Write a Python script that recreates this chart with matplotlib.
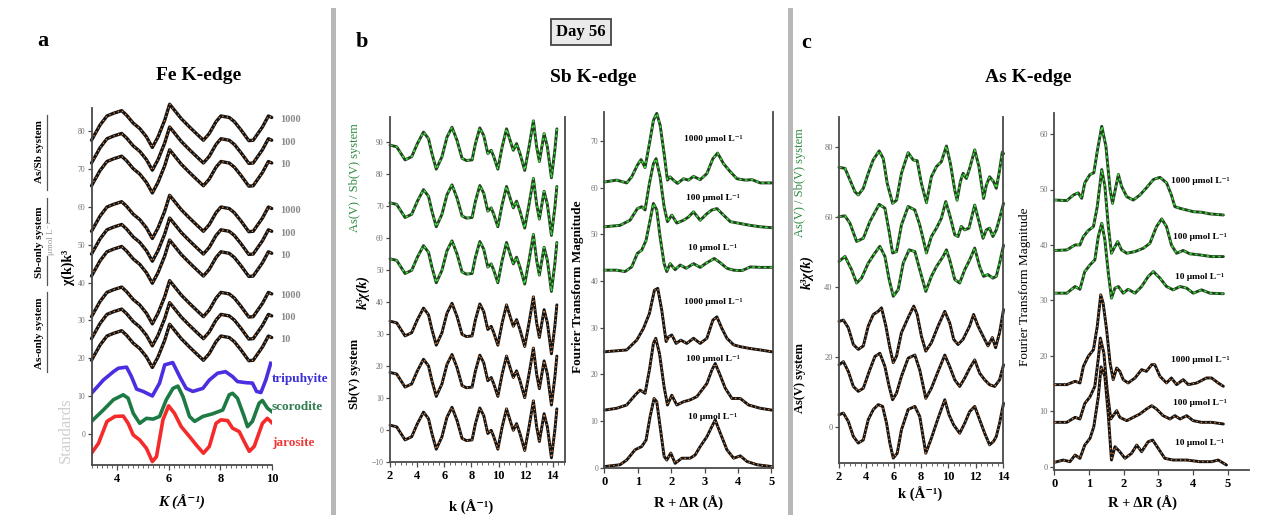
import matplotlib.pyplot as plt
from matplotlib.patches import Rectangle
from matplotlib.ticker import MultipleLocator

# ---------------- data ----------------

# panel a : Fe K-edge, chi(k)k^3 (top sample curve, the others are the same shape shifted)
fe_k = [3.0, 3.33, 3.6, 3.85, 4.17, 4.36, 4.62, 4.87, 5.13, 5.36, 5.58, 5.84, 6.03, 6.22,
        6.48, 6.8, 7.06, 7.34, 7.57, 7.83, 8.02, 8.34, 8.54, 8.8, 9.1, 9.27, 9.63, 9.86, 9.99]
fe_top = [77.5, 81.5, 83.9, 84.6, 85.3, 84.1, 82.0, 80.6, 78.4, 75.6, 78.4, 82.8, 87.0, 85.4,
          83.2, 81.0, 79.3, 77.5, 79.3, 82.4, 83.9, 83.5, 82.4, 80.2, 77.4, 77.5, 81.0, 83.9, 83.5]
fe_offsets = [0, -6, -12, -24, -30, -35.8, -46.5, -52.3, -58]
fe_conc = ["1000", "100", "10", "1000", "100", "10", "1000", "100", "10"]

trip_k = [3.0, 3.46, 3.85, 4.04, 4.36, 4.55, 4.75, 5.0, 5.36, 5.64, 5.84, 6.15, 6.42, 6.67,
          6.93, 7.32, 7.57, 7.89, 8.2, 8.47, 8.66, 8.99, 9.24, 9.4, 9.57, 9.76, 9.95]
trip_y = [10.8, 14.3, 16.5, 17.4, 17.7, 15.2, 11.9, 11.3, 10.1, 13.5, 18.3, 18.9, 15.2, 12.1,
          11.3, 12.1, 14.3, 16.1, 16.5, 15.2, 13.9, 13.6, 13.5, 11.3, 11.0, 14.3, 18.7]
scor_k = [3.0, 3.46, 3.85, 4.23, 4.42, 4.62, 4.87, 5.13, 5.39, 5.64, 5.9, 6.16, 6.35, 6.55, 6.8,
          7.0, 7.32, 7.7, 8.09, 8.34, 8.47, 8.66, 8.92, 9.05, 9.24, 9.5, 9.63, 9.82, 9.99]
scor_y = [3.4, 6.4, 9.1, 10.4, 9.5, 5.5, 2.9, 4.2, 4.0, 4.7, 9.1, 12.1, 12.7, 9.9, 4.7,
          3.4, 4.7, 5.4, 6.4, 10.4, 10.8, 9.5, 4.7, 2.0, 3.4, 8.2, 8.9, 6.9, 6.0]
jar_k = [3.0, 3.27, 3.6, 3.91, 4.23, 4.42, 4.62, 4.87, 5.13, 5.36, 5.52, 5.77, 5.99, 6.22, 6.48,
         6.8, 7.06, 7.34, 7.57, 7.83, 8.02, 8.28, 8.47, 8.73, 8.92, 9.12, 9.31, 9.63, 9.82, 9.99]
jar_y = [-5.0, -2.4, 3.4, 4.7, 4.8, 2.9, -0.2, -1.5, -3.7, -7.2, -5.9, 3.8, 7.5, 5.5, 2.0,
         -0.6, -2.8, -5.0, -3.2, 2.9, 3.8, 3.6, 1.6, 0.7, -1.9, -4.5, -3.2, 2.9, 4.2, 3.1]

# panel b : Sb K-edge k-space (top curve, the rest are shifted copies)
sb_k = [2.0, 2.49, 3.11, 3.6, 4.02, 4.47, 4.84, 5.09, 5.41, 5.83, 6.2, 6.57, 6.94, 7.31, 7.63,
        8.05, 8.3, 8.62, 8.91, 9.21, 9.46, 9.65, 9.95, 10.27, 10.59, 10.89, 11.09, 11.33, 11.58,
        11.93, 12.25, 12.57, 12.81, 13.01, 13.36, 13.6, 13.9, 14.15, 14.3]
sb_chi = [89.0, 88.5, 84.4, 85.4, 89.5, 93.1, 91.0, 86.4, 81.5, 85.4, 91.5, 94.6, 90.5, 84.9, 84.2,
          84.4, 89.5, 94.4, 92.0, 86.4, 87.4, 85.4, 81.5, 88.5, 94.1, 90.0, 87.4, 89.5, 86.4,
          81.1, 88.5, 96.6, 88.5, 83.9, 92.6, 88.5, 78.8, 87.4, 94.1]
sb_offsets = [0, -18, -35.5, -55, -71, -87.5]

# panel b : Sb K-edge Fourier transforms (R, magnitude)
sb_ft_mix_1000 = [(0.0, 61.2), (0.37, 61.6), (0.67, 61.0), (0.82, 62.3), (0.99, 64.8), (1.1, 66.0),
                  (1.22, 64.3), (1.35, 69.4), (1.47, 74.4), (1.57, 75.9), (1.67, 73.4), (1.79, 67.3),
                  (1.89, 61.6), (1.97, 62.3), (2.07, 61.6), (2.19, 60.9), (2.37, 61.9), (2.52, 61.6),
                  (2.67, 62.4), (2.87, 61.7), (3.07, 63.0), (3.25, 66.2), (3.39, 67.4), (3.57, 65.1),
                  (3.77, 63.4), (3.97, 61.9), (4.22, 61.6), (4.42, 61.7), (4.67, 61.0), (5.02, 61.0)]
sb_ft_mix_100 = [(0.0, 51.6), (0.47, 51.9), (0.77, 53.0), (0.99, 55.5), (1.12, 55.9), (1.22, 55.2),
                 (1.35, 60.9), (1.47, 65.1), (1.55, 66.2), (1.67, 62.3), (1.79, 55.9), (1.89, 52.7),
                 (2.02, 54.1), (2.17, 52.4), (2.37, 53.0), (2.52, 53.7), (2.67, 54.8), (2.87, 53.0),
                 (3.07, 54.4), (3.22, 55.2), (3.37, 55.5), (3.57, 54.1), (3.77, 52.7), (4.07, 52.3),
                 (4.37, 51.9), (4.67, 51.6), (5.02, 51.4)]
sb_ft_mix_10 = [(0.0, 42.3), (0.37, 42.3), (0.62, 42.0), (0.82, 43.0), (0.99, 45.9), (1.12, 46.6),
                (1.25, 48.7), (1.37, 53.0), (1.47, 56.6), (1.57, 55.2), (1.67, 49.4), (1.79, 43.7),
                (1.87, 42.0), (1.97, 43.7), (2.12, 42.4), (2.27, 43.4), (2.45, 42.7), (2.67, 43.7),
                (2.87, 42.9), (3.07, 43.9), (3.29, 44.8), (3.47, 43.9), (3.67, 42.7), (3.87, 42.3),
                (4.12, 42.2), (4.37, 43.0), (4.67, 42.9), (5.02, 42.9)]
sb_ft_sb_1000 = [(0.0, 24.8), (0.67, 25.2), (0.97, 27.3), (1.17, 29.8), (1.35, 33.0), (1.5, 38.0),
                 (1.6, 38.4), (1.72, 33.7), (1.85, 27.0), (1.92, 28.0), (2.02, 28.4), (2.15, 26.6),
                 (2.29, 27.3), (2.47, 26.6), (2.67, 27.7), (2.87, 26.6), (3.07, 27.7), (3.25, 31.6),
                 (3.37, 32.3), (3.52, 29.8), (3.67, 27.7), (3.87, 26.3), (4.07, 25.9), (4.37, 25.5),
                 (4.67, 25.2), (5.02, 24.8)]
sb_ft_sb_100 = [(0.0, 12.3), (0.37, 12.7), (0.67, 13.4), (0.92, 15.5), (1.07, 16.6), (1.22, 15.9),
                (1.35, 20.9), (1.47, 26.6), (1.54, 27.7), (1.65, 24.5), (1.79, 17.3), (1.89, 13.4),
                (2.02, 15.5), (2.17, 13.4), (2.37, 14.1), (2.57, 14.5), (2.77, 15.2), (2.92, 16.6),
                (3.07, 18.0), (3.22, 20.9), (3.32, 22.3), (3.45, 20.1), (3.62, 17.0), (3.82, 14.8),
                (4.07, 14.8), (4.32, 13.4), (4.67, 12.7), (5.02, 12.3)]
sb_ft_sb_10 = [(0.0, 0.2), (0.47, 0.6), (0.67, 1.6), (0.92, 3.8), (1.12, 4.5), (1.25, 5.9),
               (1.37, 10.9), (1.49, 14.8), (1.57, 14.1), (1.67, 8.8), (1.79, 2.4), (1.87, 1.6),
               (1.99, 3.1), (2.12, 0.9), (2.32, 2.0), (2.57, 2.0), (2.72, 2.7), (2.87, 4.5),
               (3.07, 6.6), (3.22, 8.8), (3.32, 10.2), (3.47, 7.4), (3.67, 3.8), (3.87, 2.0),
               (4.07, 2.5), (4.27, 1.3), (4.57, 0.6), (5.02, 0.2)]

# panel c : As K-edge k-space (k, k3 chi)
as_k_mix_1000 = [(2.0, 74.3), (2.44, 74.0), (2.8, 70.7), (3.17, 67.3), (3.41, 66.4), (3.78, 68.3),
                 (4.14, 72.6), (4.5, 76.4), (4.94, 79.0), (5.24, 76.8), (5.53, 69.7), (5.92, 64.0),
                 (6.21, 64.9), (6.57, 72.6), (7.06, 78.5), (7.43, 76.4), (7.72, 76.2), (8.03, 69.7),
                 (8.4, 64.2), (8.76, 71.6), (9.13, 74.5), (9.49, 75.9), (9.86, 80.4), (10.15, 75.4),
                 (10.47, 67.8), (10.64, 64.9), (10.88, 70.2), (11.08, 72.6), (11.32, 71.1),
                 (11.56, 74.0), (11.93, 79.3), (12.24, 74.5), (12.58, 65.4), (12.78, 69.2),
                 (13.02, 71.6), (13.31, 70.2), (13.51, 68.3), (13.75, 73.5), (13.95, 78.7), (14.04, 78.2)]
as_k_mix_100 = [(2.0, 60.2), (2.44, 60.4), (2.8, 58.3), (3.29, 53.1), (3.78, 54.0), (4.26, 58.8),
                (4.94, 63.7), (5.36, 62.6), (5.67, 55.9), (5.92, 49.8), (6.21, 50.2), (6.57, 57.8),
                (7.06, 63.1), (7.55, 62.1), (7.91, 57.8), (8.4, 49.8), (8.76, 54.5), (9.13, 56.9),
                (9.49, 59.7), (9.81, 64.5), (10.1, 60.7), (10.47, 55.0), (10.71, 54.5), (10.95, 57.4),
                (11.2, 56.4), (11.51, 56.9), (11.93, 63.5), (12.24, 58.8), (12.54, 54.0), (12.78, 56.4),
                (13.02, 56.9), (13.26, 54.5), (13.51, 56.4), (13.75, 59.7), (14.04, 64.0)]
as_k_mix_10 = [(2.0, 47.4), (2.44, 48.8), (2.92, 45.0), (3.29, 41.2), (3.65, 42.6), (4.14, 46.9),
               (4.63, 49.8), (4.99, 51.7), (5.36, 48.8), (5.67, 42.2), (5.97, 37.4), (6.33, 39.3),
               (6.7, 46.9), (7.13, 50.7), (7.55, 50.2), (7.91, 45.0), (8.35, 38.8), (8.76, 43.1),
               (9.13, 45.9), (9.62, 48.8), (9.86, 50.7), (10.1, 47.8), (10.47, 42.2), (10.83, 41.2),
               (11.2, 45.0), (11.56, 47.8), (11.93, 51.2), (12.29, 45.9), (12.58, 43.1), (12.9, 43.6),
               (13.26, 42.6), (13.51, 43.1), (13.75, 46.9), (14.04, 52.0)]
as_k_as_1000 = [(2.0, 30.2), (2.32, 30.6), (2.68, 28.4), (3.05, 23.6), (3.41, 22.2), (3.78, 23.2),
                (4.14, 28.9), (4.51, 32.2), (4.87, 33.1), (5.11, 34.1), (5.43, 28.9), (5.72, 22.7),
                (5.97, 18.4), (6.21, 20.3), (6.57, 27.0), (7.06, 31.3), (7.47, 34.6), (7.72, 32.2),
                (8.03, 26.0), (8.35, 21.7), (8.76, 24.1), (9.25, 28.9), (9.74, 33.1), (10.1, 29.8),
                (10.39, 25.1), (10.71, 23.6), (11.08, 25.1), (11.56, 28.9), (11.85, 32.2),
                (12.17, 28.9), (12.54, 26.0), (12.9, 23.2), (13.22, 25.6), (13.46, 22.7),
                (13.75, 27.0), (14.04, 33.6)]
as_k_as_100 = [(2.0, 17.8), (2.32, 18.7), (2.68, 15.9), (3.05, 11.6), (3.41, 10.2), (3.78, 11.1),
               (4.21, 15.9), (4.63, 20.2), (4.99, 21.1), (5.36, 17.3), (5.67, 11.6), (5.92, 7.8),
               (6.21, 9.7), (6.57, 14.5), (7.06, 19.7), (7.55, 20.6), (7.91, 16.3), (8.35, 8.2),
               (8.76, 11.1), (9.25, 15.9), (9.74, 20.6), (10.1, 17.3), (10.47, 13.5), (10.83, 11.6),
               (11.2, 14.0), (11.56, 16.8), (11.93, 19.2), (12.29, 15.4), (12.66, 13.5), (13.02, 12.1),
               (13.39, 11.6), (13.75, 13.5), (14.04, 17.8)]
as_k_as_10 = [(2.0, 3.5), (2.32, 4.0), (2.68, 1.6), (3.05, -2.7), (3.41, -4.6), (3.78, -3.7),
              (4.14, 2.1), (4.51, 5.0), (4.87, 6.4), (5.19, 5.9), (5.48, 1.1), (5.72, -4.6),
              (5.97, -8.9), (6.26, -7.5), (6.57, -0.8), (7.06, 5.0), (7.55, 5.9), (7.91, 3.0),
              (8.35, -7.5), (8.76, -3.2), (9.25, 2.5), (9.74, 7.8), (10.05, 3.5), (10.39, 0.6),
              (10.83, -1.8), (11.2, 1.1), (11.56, 4.4), (11.93, 5.9), (12.29, 2.1), (12.66, -1.8),
              (13.02, -5.1), (13.31, -4.1), (13.51, -2.7), (13.75, 1.1), (14.04, 6.8)]

# panel c : As K-edge Fourier transforms (R, magnitude)
as_ft_mix_1000 = [(0.02, 48.1), (0.36, 48.0), (0.55, 49.0), (0.69, 49.4), (0.79, 48.4), (0.88, 51.2),
                  (1.03, 52.7), (1.14, 53.0), (1.24, 56.9), (1.37, 61.4), (1.49, 57.8), (1.61, 50.0),
                  (1.68, 47.5), (1.78, 50.6), (1.85, 52.7), (1.94, 50.6), (2.09, 48.7), (2.28, 48.1),
                  (2.47, 49.0), (2.66, 50.3), (2.86, 51.8), (3.05, 52.2), (3.24, 51.2), (3.38, 49.0),
                  (3.48, 46.9), (3.63, 46.6), (3.82, 46.3), (4.01, 46.0), (4.25, 45.9), (4.49, 45.6),
                  (4.88, 45.4)]
as_ft_mix_100 = [(0.02, 39.0), (0.36, 39.1), (0.6, 40.0), (0.74, 40.0), (0.84, 41.5), (0.98, 42.6),
                 (1.13, 43.3), (1.24, 46.9), (1.37, 53.6), (1.46, 50.6), (1.56, 43.3), (1.65, 38.5),
                 (1.75, 39.7), (1.83, 40.6), (1.94, 39.1), (2.09, 38.5), (2.33, 38.8), (2.57, 39.4),
                 (2.76, 40.3), (2.95, 43.3), (3.1, 44.7), (3.24, 43.3), (3.38, 40.0), (3.53, 38.5),
                 (3.72, 39.0), (3.91, 38.4), (4.2, 38.2), (4.54, 37.9), (4.88, 37.9)]
as_ft_mix_10 = [(0.02, 31.3), (0.36, 31.3), (0.6, 32.5), (0.74, 32.0), (0.88, 35.2), (1.03, 36.4),
                (1.17, 37.3), (1.27, 41.5), (1.37, 43.9), (1.46, 40.9), (1.56, 34.9), (1.65, 30.4),
                (1.75, 32.2), (1.85, 32.5), (1.99, 31.3), (2.13, 32.0), (2.33, 31.3), (2.52, 32.5),
                (2.71, 34.3), (2.86, 35.2), (3.05, 34.0), (3.24, 32.5), (3.43, 31.9), (3.63, 32.5),
                (3.82, 32.2), (4.01, 31.3), (4.25, 31.9), (4.49, 31.3), (4.88, 31.2)]
as_ft_as_1000 = [(0.02, 14.8), (0.36, 14.8), (0.6, 15.4), (0.74, 15.1), (0.84, 18.1), (0.98, 19.9),
                 (1.13, 21.1), (1.24, 25.3), (1.34, 31.0), (1.41, 29.5), (1.51, 24.7), (1.61, 18.7),
                 (1.7, 15.7), (1.8, 17.8), (1.89, 17.2), (1.99, 15.7), (2.13, 15.1), (2.33, 16.0),
                 (2.52, 17.5), (2.66, 17.2), (2.81, 18.4), (2.9, 18.4), (3.05, 16.3), (3.24, 15.1),
                 (3.38, 16.0), (3.53, 14.8), (3.72, 15.7), (3.87, 14.8), (4.11, 15.1), (4.39, 16.0),
                 (4.54, 16.0), (4.73, 15.1), (4.88, 14.5)]
as_ft_as_100 = [(0.02, 8.0), (0.36, 8.0), (0.6, 8.9), (0.74, 8.6), (0.88, 11.4), (1.03, 12.6),
                (1.17, 14.5), (1.27, 19.5), (1.33, 23.2), (1.43, 20.5), (1.53, 13.6), (1.63, 8.6),
                (1.7, 9.2), (1.8, 10.1), (1.89, 8.9), (2.09, 8.3), (2.28, 8.9), (2.47, 9.5),
                (2.66, 10.4), (2.81, 11.0), (2.95, 10.4), (3.14, 9.2), (3.34, 8.6), (3.48, 9.2),
                (3.63, 8.6), (3.82, 9.2), (4.01, 8.3), (4.25, 8.0), (4.54, 8.0), (4.88, 7.7)]
as_ft_as_10 = [(0.02, 0.8), (0.26, 1.2), (0.45, 0.9), (0.6, 2.1), (0.74, 1.5), (0.88, 3.9),
               (1.03, 5.1), (1.14, 7.2), (1.27, 12.6), (1.35, 18.0), (1.46, 16.3), (1.56, 9.2),
               (1.65, 1.2), (1.75, 3.6), (1.89, 2.7), (2.04, 1.5), (2.23, 2.4), (2.38, 3.9),
               (2.52, 2.7), (2.71, 4.5), (2.84, 4.8), (3.0, 3.3), (3.19, 1.5), (3.43, 1.2),
               (3.82, 1.2), (4.2, 0.9), (4.54, 0.9), (4.73, 1.2), (4.97, 0.3)]

ft_conc = ["1000", "100", "10", "1000", "100", "10"]

# ---------------- figure ----------------

W, H = 1268, 515
plt.rcParams['font.family'] = ['Liberation Serif', 'DejaVu Serif']

fig = plt.figure(figsize=(W / 100, H / 100), dpi=100)

BLACK = "#141414"
DKGREEN = "#22451f"
ORANGE = "#f58a3a"
GREEN = "#3fe03f"
LBL_GREEN = "#2f8a40"


def px_box(left, top, right, bottom):
    return [left / W, 1 - bottom / H, (right - left) / W, (bottom - top) / H]


def ftext(x, y, s, **kw):
    fig.text(x / W, 1 - y / H, s, **kw)


def style_axes(ax, right=False, ylabsize=5.5):
    ax.patch.set_alpha(0)
    ax.spines["top"].set_visible(False)
    ax.spines["right"].set_visible(right)
    for s in ["left", "bottom", "right"]:
        ax.spines[s].set_color("#4a4a4a")
        ax.spines[s].set_linewidth(1.3)
    ax.tick_params(axis="y", labelsize=ylabsize, labelcolor="#707070", color="#4a4a4a",
                   length=3, width=0.9, pad=1.5)
    ax.tick_params(axis="x", labelsize=9, color="#4a4a4a", length=3.5, width=0.9, pad=2)
    ax.tick_params(axis="x", which="minor", length=2, width=0.6, color="#4a4a4a")
    for lab in ax.get_xticklabels():
        lab.set_fontweight("bold")


def fit_pair(ax, x, y, line_color, dot_color, lw=2.3, green=False):
    ax.plot(x, y, color=line_color, lw=lw, solid_joinstyle="round", solid_capstyle="round",
            clip_on=False)
    if green:
        ax.plot(x, y, color=dot_color, lw=1.1, linestyle=(0, (1.6, 2.2)), clip_on=False)
    else:
        ax.plot(x, y, color=dot_color, lw=0.9, linestyle=(0, (1.0, 2.6)), clip_on=False)


# separators
for xs in [331, 788]:
    fig.add_artist(Rectangle((xs / W, 0), 5 / W, 1 - 8 / H, transform=fig.transFigure,
                             facecolor="#b8b8b8", edgecolor="none"))

# ---- panel a ----
ax_a = fig.add_axes(px_box(91.5, 108, 272, 465))
for off in fe_offsets:
    fit_pair(ax_a, fe_k, [v + off for v in fe_top], BLACK, ORANGE, lw=2.4)
ax_a.plot(trip_k, trip_y, color="#4a2fe0", lw=2.6)
ax_a.plot(scor_k, scor_y, color="#1e7a45", lw=2.6)
ax_a.plot(jar_k, jar_y, color="#f52a2a", lw=2.6)
ax_a.set_xlim(3, 10)
ax_a.set_ylim(-8.1, 86)
ax_a.set_xticks([4, 6, 8, 10])
ax_a.xaxis.set_minor_locator(MultipleLocator(0.2))
ax_a.set_yticks(range(0, 81, 10))
style_axes(ax_a)

for off, c in zip(fe_offsets, fe_conc):
    ax_a.text(10.3, fe_top[-1] + off - 0.5, c, fontsize=7.5, color="#8a8a8a",
              fontweight="bold", va="center", clip_on=False)
ax_a.text(10.0, 14.5, "tripuhyite", fontsize=9.5, color="#3a30d8", fontweight="bold",
          va="center", clip_on=False)
ax_a.text(10.0, 7.1, "scorodite", fontsize=9.5, color="#2f7f4f", fontweight="bold",
          va="center", clip_on=False)
ax_a.text(10.0, -2.4, "jarosite", fontsize=9.5, color="#ee3a3a", fontweight="bold",
          va="center", clip_on=False)

ftext(43, 41, "a", fontsize=16, fontweight="bold", ha="center", va="center")
ftext(199, 76, "Fe K-edge", fontsize=14, fontweight="bold", ha="center", va="center")
ftext(182, 502, "K (Å⁻¹)", fontsize=11, fontweight="bold", style="italic", ha="center", va="center")
ftext(68, 267, "χ(k)k³", fontsize=10, fontweight="bold", rotation=90, ha="center", va="center")
ftext(39, 152, "As/Sb system", fontsize=8, fontweight="bold", rotation=90, ha="center", va="center")
ftext(39, 242, "Sb-only system", fontsize=8, fontweight="bold", rotation=90, ha="center", va="center")
ftext(39, 333, "As-only system", fontsize=8, fontweight="bold", rotation=90, ha="center", va="center")
ftext(51, 238, "μmol L⁻¹", fontsize=6.5, color="#9a9a9a", rotation=90, ha="center", va="center")
ftext(66, 430, "Standards", fontsize=12, color="#cfcfcf", rotation=90, ha="center", va="center")
for y0, y1 in [(115, 190), (198, 222), (256, 285), (292, 372)]:
    fig.add_artist(plt.Line2D([47 / W, 47 / W], [1 - y0 / H, 1 - y1 / H], color="#555555", lw=0.9))

# ---- panel b ----
ftext(362, 42, "b", fontsize=16, fontweight="bold", ha="center", va="center")
ftext(581, 32, "Day 56", fontsize=12, fontweight="bold", ha="center", va="center",
      bbox=dict(boxstyle="square,pad=0.3", fc="#eaeaea", ec="#444444", lw=1.3))
ftext(593, 77, "Sb K-edge", fontsize=14, fontweight="bold", ha="center", va="center")

ax_bk = fig.add_axes(px_box(390, 117, 565, 462))
for i, off in enumerate(sb_offsets):
    if i < 3:
        fit_pair(ax_bk, sb_k, [v + off for v in sb_chi], DKGREEN, GREEN, lw=2.1, green=True)
    else:
        fit_pair(ax_bk, sb_k, [v + off for v in sb_chi], BLACK, ORANGE, lw=2.1)
ax_bk.set_xlim(2, 14.9)
ax_bk.set_ylim(-10, 97.8)
ax_bk.set_xticks(range(2, 15, 2))
ax_bk.xaxis.set_minor_locator(MultipleLocator(0.4))
ax_bk.set_yticks(range(-10, 91, 10))
style_axes(ax_bk, right=True)
ftext(471, 507, "k (Å⁻¹)", fontsize=10.5, fontweight="bold", ha="center", va="center")
ftext(363, 292, "k³χ(k)", fontsize=10, fontweight="bold", style="italic", rotation=90,
      ha="center", va="center")
ftext(355, 178, "As(V) / Sb(V) system", fontsize=9, color=LBL_GREEN, rotation=90,
      ha="center", va="center")
ftext(355, 374, "Sb(V) system", fontsize=9, fontweight="bold", rotation=90, ha="center", va="center")

ax_bf = fig.add_axes(px_box(604.3, 112, 772.7, 468))
sb_ft = [sb_ft_mix_1000, sb_ft_mix_100, sb_ft_mix_10, sb_ft_sb_1000, sb_ft_sb_100, sb_ft_sb_10]
sb_lab_y = [70.5, 57.8, 47.0, 35.5, 23.3, 10.8]
for i, (curve, c, ly) in enumerate(zip(sb_ft, ft_conc, sb_lab_y)):
    r, m = zip(*curve)
    if i < 3:
        fit_pair(ax_bf, r, m, DKGREEN, GREEN, lw=2.1, green=True)
    else:
        fit_pair(ax_bf, r, m, BLACK, ORANGE, lw=2.1)
    ax_bf.text(3.25, ly, c + " μmol L⁻¹", fontsize=6.8, fontweight="bold", ha="center", va="center")
ax_bf.set_xlim(0, 5.04)
ax_bf.set_ylim(-0.1, 76.2)
ax_bf.set_xticks(range(0, 6))
ax_bf.set_yticks(range(0, 71, 10))
style_axes(ax_bf, right=True)
ftext(688, 503, "R + ΔR (Å)", fontsize=10.5, fontweight="bold", ha="center", va="center")
ftext(578, 287, "Fourier Transform Magnitude", fontsize=9.5, fontweight="bold", rotation=90,
      ha="center", va="center")

# ---- panel c ----
ftext(806, 43, "c", fontsize=16, fontweight="bold", ha="center", va="center")
ftext(1028, 77, "As K-edge", fontsize=14, fontweight="bold", ha="center", va="center")

ax_ck = fig.add_axes(px_box(839, 117, 1003, 463))
as_k = [as_k_mix_1000, as_k_mix_100, as_k_mix_10, as_k_as_1000, as_k_as_100, as_k_as_10]
for i, curve in enumerate(as_k):
    k, chi = zip(*curve)
    if i < 3:
        fit_pair(ax_ck, k, chi, DKGREEN, GREEN, lw=2.1, green=True)
    else:
        fit_pair(ax_ck, k, chi, BLACK, ORANGE, lw=2.1)
ax_ck.set_xlim(2, 14)
ax_ck.set_ylim(-10.3, 88.7)
ax_ck.set_xticks(range(2, 15, 2))
ax_ck.xaxis.set_minor_locator(MultipleLocator(0.4))
ax_ck.set_yticks(range(0, 81, 20))
style_axes(ax_ck, right=True, ylabsize=6)
ftext(920, 494, "k (Å⁻¹)", fontsize=10.5, fontweight="bold", ha="center", va="center")
ftext(807, 272, "k³χ(k)", fontsize=10, fontweight="bold", style="italic", rotation=90,
      ha="center", va="center")
ftext(800, 183, "As(V) / Sb(V) system", fontsize=9, color=LBL_GREEN, rotation=90,
      ha="center", va="center")
ftext(800, 378, "As(V) system", fontsize=9, fontweight="bold", rotation=90, ha="center", va="center")

ax_cf = fig.add_axes(px_box(1054.3, 113, 1249, 470))
as_ft = [as_ft_mix_1000, as_ft_mix_100, as_ft_mix_10, as_ft_as_1000, as_ft_as_100, as_ft_as_10]
as_lab_y = [51.5, 41.5, 34.3, 19.3, 11.4, 4.2]
for i, (curve, c, ly) in enumerate(zip(as_ft, ft_conc, as_lab_y)):
    r, m = zip(*curve)
    if i < 3:
        fit_pair(ax_cf, r, m, DKGREEN, GREEN, lw=2.1, green=True)
    else:
        fit_pair(ax_cf, r, m, BLACK, ORANGE, lw=2.1)
    ax_cf.text(4.2, ly, c + " μmol L⁻¹", fontsize=6.8, fontweight="bold", ha="center", va="center")
ax_cf.set_xlim(0, 5.62)
ax_cf.set_ylim(-0.6, 63.8)
ax_cf.set_xticks(range(0, 6))
ax_cf.set_yticks(range(0, 61, 10))
style_axes(ax_cf, ylabsize=6)
ftext(1142, 503, "R + ΔR (Å)", fontsize=10.5, fontweight="bold", ha="center", va="center")
ftext(1025, 287, "Fourier Transform Magnitude", fontsize=9.5, rotation=90, ha="center", va="center")

fig.savefig("out.png", dpi=100)
